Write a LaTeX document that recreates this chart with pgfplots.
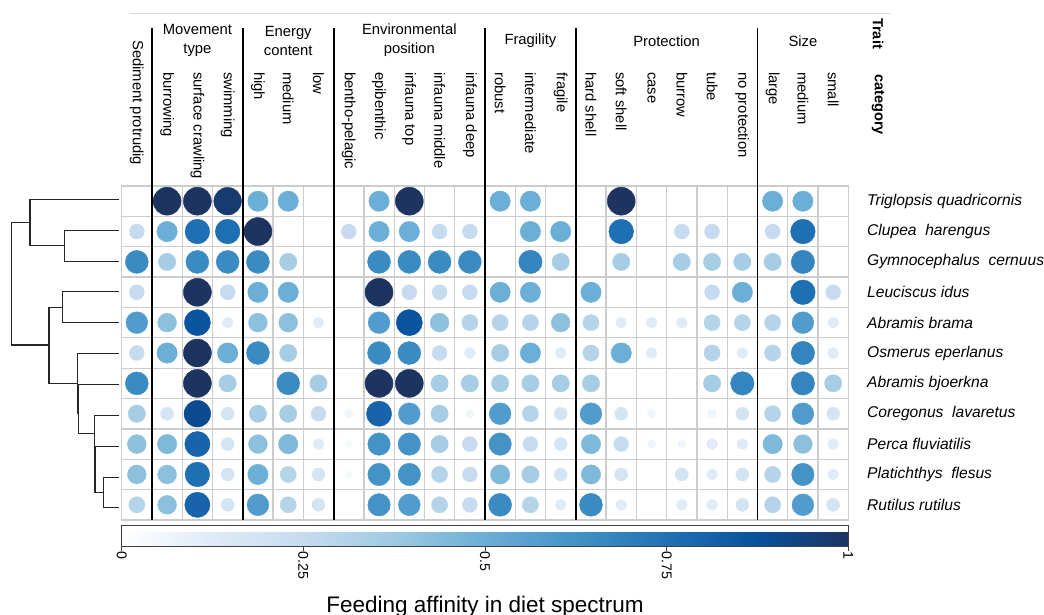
\documentclass[border=0pt]{standalone}
\usepackage{pgfplots}
\pgfplotsset{compat=1.18}
\usepackage{pgfplotstable}
\usepackage{fontspec}
\setmainfont{Liberation Sans}

\pgfplotstableread{
x y v
1 0 1.0
2 0 1.0
3 0 0.97
4 0 0.5
5 0 0.5
8 0 0.5
9 0 1.0
12 0 0.5
13 0 0.5
16 0 1.0
21 0 0.5
22 0 0.5
0 1 0.25
1 1 0.5
2 1 0.76
3 1 0.76
4 1 1.0
7 1 0.25
8 1 0.5
9 1 0.5
10 1 0.25
11 1 0.25
13 1 0.5
14 1 0.5
16 1 0.76
18 1 0.25
19 1 0.25
21 1 0.25
22 1 0.76
0 2 0.65
1 2 0.35
2 2 0.65
3 2 0.65
4 2 0.65
5 2 0.35
8 2 0.65
9 2 0.65
10 2 0.65
11 2 0.65
13 2 0.68
14 2 0.35
16 2 0.35
18 2 0.35
19 2 0.35
20 2 0.35
21 2 0.35
22 2 0.68
0 3 0.25
2 3 1.0
3 3 0.25
4 3 0.5
5 3 0.5
8 3 1.0
9 3 0.25
10 3 0.25
11 3 0.25
12 3 0.5
13 3 0.5
15 3 0.5
19 3 0.25
20 3 0.5
22 3 0.76
23 3 0.25
0 4 0.58
1 4 0.42
2 4 0.86
3 4 0.12
4 4 0.42
5 4 0.42
6 4 0.12
8 4 0.58
9 4 0.86
10 4 0.42
11 4 0.3
12 4 0.3
13 4 0.3
14 4 0.42
15 4 0.3
16 4 0.12
17 4 0.12
18 4 0.12
19 4 0.3
20 4 0.3
21 4 0.3
22 4 0.58
23 4 0.12
0 5 0.25
1 5 0.5
2 5 1.0
3 5 0.5
4 5 0.65
5 5 0.35
8 5 0.65
9 5 0.65
10 5 0.25
11 5 0.12
12 5 0.35
13 5 0.5
14 5 0.12
15 5 0.3
16 5 0.5
17 5 0.12
19 5 0.3
20 5 0.12
21 5 0.3
22 5 0.68
23 5 0.12
0 6 0.65
2 6 1.0
3 6 0.35
5 6 0.65
6 6 0.35
8 6 1.0
9 6 1.0
10 6 0.35
11 6 0.35
12 6 0.35
13 6 0.35
14 6 0.35
15 6 0.35
19 6 0.35
20 6 0.68
22 6 0.68
23 6 0.35
0 7 0.35
1 7 0.18
2 7 0.9
3 7 0.18
4 7 0.35
5 7 0.35
6 7 0.25
7 7 0.06
8 7 0.8
9 7 0.58
10 7 0.35
11 7 0.06
12 7 0.58
13 7 0.3
14 7 0.18
15 7 0.58
16 7 0.18
17 7 0.06
19 7 0.06
20 7 0.18
21 7 0.3
22 7 0.58
23 7 0.18
0 8 0.42
1 8 0.45
2 8 0.8
3 8 0.18
4 8 0.42
5 8 0.45
6 8 0.12
7 8 0.04
8 8 0.62
9 8 0.62
10 8 0.35
11 8 0.25
12 8 0.62
13 8 0.25
14 8 0.18
15 8 0.45
16 8 0.25
17 8 0.06
18 8 0.06
19 8 0.12
20 8 0.12
21 8 0.45
22 8 0.42
23 8 0.12
0 9 0.42
1 9 0.42
2 9 0.76
3 9 0.18
4 9 0.5
5 9 0.3
6 9 0.18
7 9 0.04
8 9 0.62
9 9 0.62
10 9 0.3
11 9 0.25
12 9 0.45
13 9 0.35
14 9 0.18
15 9 0.45
16 9 0.18
18 9 0.18
19 9 0.12
20 9 0.18
21 9 0.3
22 9 0.62
23 9 0.12
0 10 0.3
1 10 0.42
2 10 0.8
3 10 0.18
4 10 0.58
5 10 0.3
6 10 0.18
8 10 0.62
9 10 0.58
10 10 0.3
11 10 0.25
12 10 0.65
13 10 0.3
14 10 0.12
15 10 0.65
16 10 0.12
18 10 0.12
19 10 0.12
20 10 0.18
21 10 0.3
22 10 0.58
23 10 0.18
}\bubbles

\pgfplotsset{
  colormap={fdblues}{rgb255=(255,255,255) rgb255=(222,235,247) rgb255=(198,219,239) rgb255=(158,202,225) rgb255=(107,174,214) rgb255=(66,146,198) rgb255=(33,113,181) rgb255=(8,81,156) rgb255=(29,52,97)},
}

\newcommand{\lab}{\fontsize{14.8}{19}\selectfont}

\begin{document}
\begin{tikzpicture}
\useasboundingbox (0,0) rectangle (1044pt,615pt);

% main bubble matrix
\begin{axis}[
  at={(121.7pt,95pt)}, anchor=south west,
  width=726.6pt, height=334pt, scale only axis,
  xmin=-0.5, xmax=23.5, ymin=-0.5, ymax=10.5, y dir=reverse,
  xtick={-0.5,0.5,...,23.5}, ytick={-0.5,0.5,...,10.5},
  xticklabels={}, yticklabels={},
  xticklabel style={opacity=0}, yticklabel style={opacity=0},
  major tick length=0pt,
  grid=major, grid style={draw=gray!40, line width=1.3pt},
  axis line style={draw=gray!40, line width=1.3pt},
  colormap name=fdblues, point meta min=0, point meta max=1,
  colorbar horizontal,
  colorbar style={
    at={(parent axis.south west)}, anchor=north west, yshift=3pt,
    width=726.6pt, height=21pt, scale only axis,
    xtick={0,0.25,0.5,0.75,1}, xticklabels={0,0.25,0.5,0.75,1},
    xticklabel style={rotate=-90, anchor=west, font=\fontsize{14.2}{14}\selectfont, inner sep=1pt, opacity=1},
    xtick pos=left, tick align=outside, major tick length=4pt,
    axis line style={draw=black!75, line width=0.8pt},
    xtick style={draw=black!75, line width=0.8pt},
    ytick=\empty,
  },
  clip=false,
]
\addplot[scatter, only marks, mark=*,
  point meta=\thisrow{v},
  scatter/use mapped color={draw=mapped color, fill=mapped color},
  visualization depends on={1+13*sqrt(\thisrow{v}) \as \rad},
  scatter/@pre marker code/.append style={/tikz/mark size=\rad pt}]
  table[x=x, y=y] \bubbles;
\end{axis}

% overlay axis in image pixel coordinates
\begin{axis}[
  at={(0pt,0pt)}, anchor=south west,
  width=1044pt, height=615pt, scale only axis,
  xmin=0, xmax=1044, ymin=0, ymax=615, y dir=reverse,
  hide axis, clip=false,
  dend/.style={black!85, solid, line width=1.2pt, no marks},
]
% dendrogram
\addplot[dend] coordinates {(119,477.3) (103.3,477.3) (103.3,507.7) (119,507.7)};
\addplot[dend] coordinates {(119,446.3) (95,446.3) (95,492.5) (103.3,492.5)};
\addplot[dend] coordinates {(119,415.3) (94.3,415.3) (94.3,470) (95,470)};
\addplot[dend] coordinates {(119,384.3) (78.3,384.3) (78.3,433.3) (94.3,433.3)};
\addplot[dend] coordinates {(119,353.7) (77.7,353.7) (77.7,413.3) (78.3,413.3)};
\addplot[dend] coordinates {(119,291.7) (62.3,291.7) (62.3,322.3) (119,322.3)};
\addplot[dend] coordinates {(62.3,307.3) (49,307.3) (49,383.3) (77.7,383.3)};
\addplot[dend] coordinates {(119,230.7) (64.3,230.7) (64.3,261.3) (119,261.3)};
\addplot[dend] coordinates {(119,199.3) (30,199.3) (30,245.7) (64.3,245.7)};
\addplot[dend] coordinates {(30,222.3) (11.7,222.3) (11.7,345) (49,345)};

% faint top line
\draw[gray!30, line width=0.6pt] (axis cs:130,13) -- (axis cs:890,13);

% group separators
\foreach \xx in {152,242.8,333.6,485,575.8,757.5}{
  \edef\tmp{\noexpand\draw[black, line width=1.8pt] (axis cs:\xx,28) -- (axis cs:\xx,520);}\tmp
}

% group headers
\node[align=center, font=\lab] at (axis cs:197.4,40.5) {Movement\\type};
\node[align=center, font=\lab] at (axis cs:288.2,40.5) {Energy\\content};
\node[align=center, font=\lab] at (axis cs:409.3,40.5) {Environmental\\position};
\node[font=\lab] at (axis cs:530.4,41) {Fragility};
\node[font=\lab] at (axis cs:666.6,41) {Protection};
\node[font=\lab] at (axis cs:802.9,41) {Size};

% category labels
\tikzset{cl/.style={rotate=-90, anchor=west, inner sep=0pt, font=\lab}}
\node[cl] at (axis cs:136.8,40) {Sediment protrudig};
\node[cl] at (axis cs:167.1,72) {burrowing};
\node[cl] at (axis cs:197.4,72) {surface crawling};
\node[cl] at (axis cs:227.7,72) {swimming};
\node[cl] at (axis cs:257.9,72) {high};
\node[cl] at (axis cs:288.2,72) {medium};
\node[cl] at (axis cs:318.5,72) {low};
\node[cl] at (axis cs:348.8,72) {bentho-pelagic};
\node[cl] at (axis cs:379.0,72) {epibenthic};
\node[cl] at (axis cs:409.3,72) {infauna top};
\node[cl] at (axis cs:439.6,72) {infauna middle};
\node[cl] at (axis cs:469.9,72) {infauna deep};
\node[cl] at (axis cs:500.1,72) {robust};
\node[cl] at (axis cs:530.4,72) {intermediate};
\node[cl] at (axis cs:560.7,72) {fragile};
\node[cl] at (axis cs:591.0,72) {hard shell};
\node[cl] at (axis cs:621.2,72) {soft shell};
\node[cl] at (axis cs:651.5,72) {case};
\node[cl] at (axis cs:681.8,72) {burrow};
\node[cl] at (axis cs:712.1,72) {tube};
\node[cl] at (axis cs:742.3,72) {no protection};
\node[cl] at (axis cs:772.6,72) {large};
\node[cl] at (axis cs:802.9,72) {medium};
\node[cl] at (axis cs:833.2,72) {small};

% Trait / category
\node[rotate=-90, anchor=west, inner sep=0pt, font=\fontsize{14.6}{17}\selectfont\bfseries] at (axis cs:878,18) {Trait};
\node[rotate=-90, anchor=west, inner sep=0pt, font=\fontsize{14.6}{17}\selectfont\bfseries] at (axis cs:878,74) {category};

% species labels
\tikzset{sp/.style={anchor=west, inner sep=0pt, font=\fontsize{15.6}{18}\selectfont\itshape}}
\node[sp] at (axis cs:867,201.2) {Triglopsis quadricornis};
\node[sp] at (axis cs:867,231.6) {Clupea\ \ harengus};
\node[sp] at (axis cs:867,261.9) {Gymnocephalus\ \ cernuus};
\node[sp] at (axis cs:867,292.3) {Leuciscus idus};
\node[sp] at (axis cs:867,322.6) {Abramis brama};
\node[sp] at (axis cs:867,353.0) {Osmerus eperlanus};
\node[sp] at (axis cs:867,383.4) {Abramis bjoerkna};
\node[sp] at (axis cs:867,413.7) {Coregonus\ \ lavaretus};
\node[sp] at (axis cs:867,444.1) {Perca fluviatilis};
\node[sp] at (axis cs:867,474.4) {Platichthys\ \ flesus};
\node[sp] at (axis cs:867,504.8) {Rutilus rutilus};

% colorbar title
\node[anchor=base, inner sep=0pt, font=\fontsize{22.5}{27}\selectfont] at (axis cs:485,612) {Feeding affinity in diet spectrum};
\end{axis}
\end{tikzpicture}
\end{document}
